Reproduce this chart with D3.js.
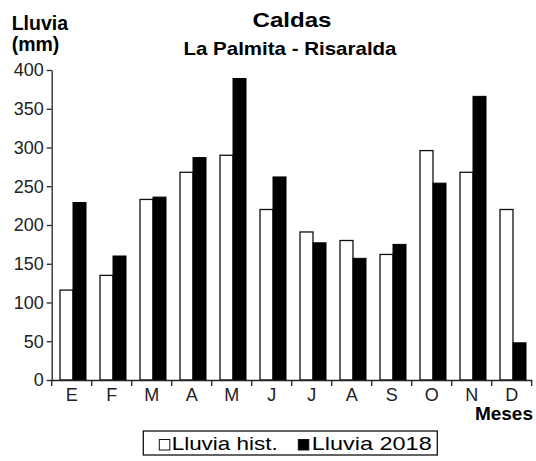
<!DOCTYPE html>
<html><head><meta charset="utf-8">
<script src="https://cdn.jsdelivr.net/npm/d3@7"></script>
<style>
html,body{margin:0;padding:0;background:#fff;}
text{font-family:"Liberation Sans",Arial,sans-serif;}
</style></head>
<body>
<svg id="chart" width="536" height="461"></svg>
<script>
const months = ["E","F","M","A","M","J","J","A","S","O","N","D"];
const histValues = [116,135,233,268,290,220,191,180,162,296,268,220];
const values2018 = [229,160,236,287,389,262,177,157,175,254,366,48];
const yTicks = [0,50,100,150,200,250,300,350,400];
const seriesNames = ["Lluvia hist.","Lluvia 2018"];

const svg = d3.select("#chart");
const mLeft = 51.7, mRight = 531.7, mTop = 70, mBottom = 380;

const x = d3.scaleBand().domain(d3.range(months.length)).range([mLeft, mRight]).padding(0);
const x1 = d3.scaleBand().domain([0,1]).range([8.3, 34.3]).padding(0);
const y = d3.scaleLinear().domain([0,400]).range([mBottom, mTop]);

// bars
const g = svg.append("g");
months.forEach((m,i)=>{
  g.append("rect")
    .attr("x", x(i)+x1(0)).attr("y", y(histValues[i]))
    .attr("width", x1.bandwidth()).attr("height", y(0)-y(histValues[i]))
    .attr("fill","#fff").attr("stroke","#111").attr("stroke-width",1.3);
  g.append("rect")
    .attr("x", x(i)+x1(1)).attr("y", y(values2018[i]))
    .attr("width", x1.bandwidth()).attr("height", y(0)-y(values2018[i]))
    .attr("fill","#000").attr("stroke","#000").attr("stroke-width",1);
});

// y axis
const yAxis = svg.append("g").attr("transform",`translate(${mLeft},0)`)
  .call(d3.axisLeft(y).tickValues(yTicks).tickSize(5).tickPadding(3).tickSizeOuter(0));
yAxis.selectAll("text").attr("font-size","18px").attr("fill","#222")
  .attr("font-family","Liberation Sans, Arial, sans-serif");
yAxis.selectAll("line,path").attr("stroke","#222").attr("stroke-width",1.3);

// x axis
const xAxis = svg.append("g").attr("transform",`translate(0,${mBottom})`)
  .call(d3.axisBottom(x).tickSize(0).tickPadding(8).tickFormat(i=>months[i]).tickSizeOuter(0));
xAxis.selectAll("text").attr("font-size","18px").attr("fill","#222")
  .attr("font-family","Liberation Sans, Arial, sans-serif").attr("dy","0.72em");
xAxis.select("path").attr("stroke","#222").attr("stroke-width",1.3);
// tick marks at band boundaries
const bounds = d3.range(months.length+1).map(i => i < months.length ? x(i) : x(months.length-1)+x.bandwidth());
xAxis.selectAll("line.bound").data(bounds).join("line").attr("class","bound")
  .attr("x1",d=>d).attr("x2",d=>d).attr("y1",0).attr("y2",6)
  .attr("stroke","#222").attr("stroke-width",1.3);

// titles
svg.append("text").attr("x",292).attr("y",27.3).attr("text-anchor","middle")
  .attr("font-size","21px").attr("font-weight","bold")
  .attr("textLength",79).attr("lengthAdjust","spacingAndGlyphs").text("Caldas");
svg.append("text").attr("x",290).attr("y",55).attr("text-anchor","middle")
  .attr("font-size","18.5px").attr("font-weight","bold")
  .attr("textLength",213).attr("lengthAdjust","spacingAndGlyphs").text("La Palmita - Risaralda");
svg.append("text").attr("x",11.7).attr("y",30)
  .attr("font-size","19.5px").attr("font-weight","bold").text("Lluvia");
svg.append("text").attr("x",11.7).attr("y",51)
  .attr("font-size","19.5px").attr("font-weight","bold").text("(mm)");
svg.append("text").attr("x",533).attr("y",420).attr("text-anchor","end")
  .attr("font-size","19px").attr("font-weight","bold").text("Meses");

// legend
const lg = svg.append("g");
lg.append("rect").attr("x",143.3).attr("y",431).attr("width",294).attr("height",24)
  .attr("fill","#fff").attr("stroke","#111").attr("stroke-width",1.3);
const legItems = [
  {name:seriesNames[0], sx:159.3, tx:171.7, tw:106, fill:"#fff"},
  {name:seriesNames[1], sx:298.3, tx:311.7, tw:120, fill:"#000"}
];
legItems.forEach(d=>{
  lg.append("rect").attr("x",d.sx).attr("y",439.5).attr("width",10.5).attr("height",10.5)
    .attr("fill",d.fill).attr("stroke","#111").attr("stroke-width",1);
  lg.append("text").attr("x",d.tx).attr("y",450).attr("font-size","18.5px")
    .attr("textLength",d.tw).attr("lengthAdjust","spacingAndGlyphs").text(d.name);
});
</script>
</body></html>
